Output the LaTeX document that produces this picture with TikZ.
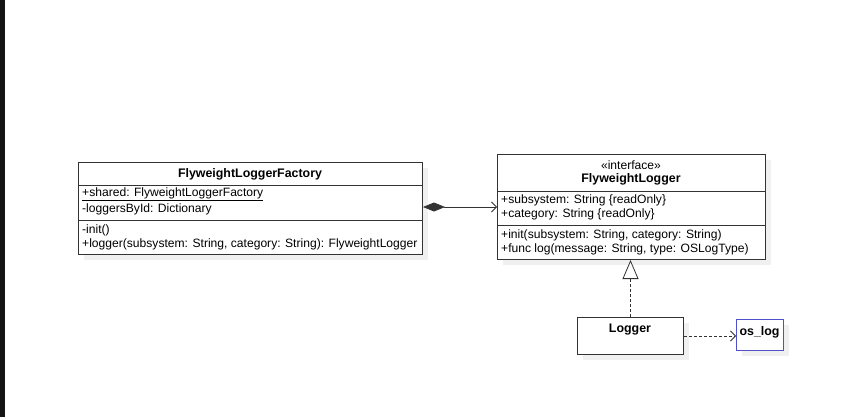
\documentclass[tikz,border=0pt]{standalone}
\usepackage{fontspec}
\setmainfont{Liberation Sans}
\usetikzlibrary{arrows.meta, shadows}
\definecolor{edgegray}{RGB}{51,51,51}
\definecolor{shadowgray}{RGB}{240,240,240}
\definecolor{noteblue}{RGB}{80,80,205}

\begin{document}
\begin{tikzpicture}[x=1pt, y=-1pt, font=\fontsize{12.1}{14}\selectfont,
    classbox/.style={draw=edgegray, line width=1pt, fill=white, inner sep=0pt, anchor=north west,
        drop shadow={shadow xshift=5pt, shadow yshift=-5pt, fill=shadowgray, opacity=1}},
    member/.style={anchor=west, inner sep=0pt},
    title/.style={font=\fontsize{12.4}{14}\selectfont\bfseries, inner sep=0pt},
    link/.style={line width=0.8pt, edgegray}]
    \useasboundingbox (0, 0) rectangle (851, 417);
    \fill[black!92] (0, 0) rectangle (5, 417);

    \node[classbox, minimum width=344, minimum height=92] (factory) at (78, 162) {};
    \node[title] (factoryname) at (250, 174) {FlyweightLoggerFactory};
    \draw[edgegray, line width=1pt] (factory.west |- 0, 185) -- (factory.east |- 0, 185);
    \draw[edgegray, line width=1pt] (factory.west |- 0, 220) -- (factory.east |- 0, 220);
    \node[member] (shared) at (82, 194.5) {\underline{+shared: FlyweightLoggerFactory}};
    \node[member] (loggers) at (82, 209) {-loggersById: Dictionary};
    \node[member] (init) at (82, 230) {-init()};
    \node[member] (getlogger) at (82, 244) {+logger(subsystem: String, category: String): FlyweightLogger};

    \node[classbox, minimum width=268, minimum height=105] (iface) at (497, 154) {};
    \node[inner sep=0pt] (stereo) at (631, 165) {«interface»};
    \node[title] (ifacename) at (631, 179) {FlyweightLogger};
    \draw[edgegray, line width=1pt] (iface.west |- 0, 191) -- (iface.east |- 0, 191);
    \draw[edgegray, line width=1pt] (iface.west |- 0, 225) -- (iface.east |- 0, 225);
    \node[member] (subsystem) at (501, 200.5) {+subsystem: String \{readOnly\}};
    \node[member] (category) at (501, 214.5) {+category: String \{readOnly\}};
    \node[member] (ifaceinit) at (501, 235.5) {+init(subsystem: String, category: String)};
    \node[member] (log) at (501, 249) {+func log(message: String, type: OSLogType)};

    \node[classbox, minimum width=106, minimum height=37] (logger) at (577, 317) {};
    \node[title] (loggername) at (630, 330) {Logger};

    \node[classbox, draw=noteblue, minimum width=47, minimum height=31] (oslog) at (736, 319) {};
    \node[title] (oslogname) at (759.5, 332) {os\_log};

    \draw[link, {Diamond[length=22pt, width=9pt]}-{Straight Barb[length=5pt, width=10pt]}]
        (factory.east |- 0, 207) -- (iface.west |- 0, 207);
    \draw[link, dash pattern=on 3pt off 2pt, -{Triangle[open, length=19pt, width=16pt, fill=white]}]
        (logger.north) -- (iface.south -| logger.north);
    \draw[link, dash pattern=on 3pt off 2pt, -{Straight Barb[length=5pt, width=10pt]}]
        (logger.east |- 0, 336) -- (oslog.west |- 0, 336);
\end{tikzpicture}
\end{document}
